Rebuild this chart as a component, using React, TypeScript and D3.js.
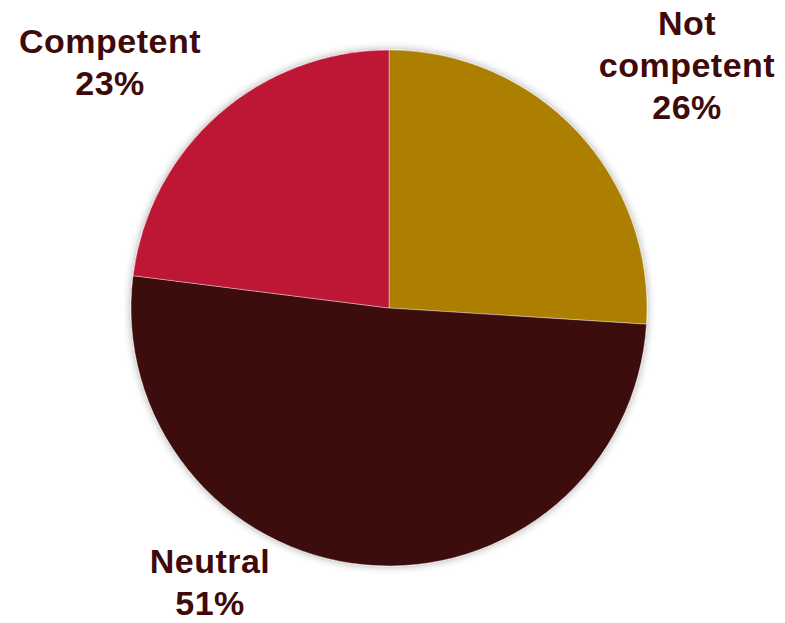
import React from "react";
import * as d3 from "d3";

const categories = ["Not competent", "Neutral", "Competent"];
const values = [26, 51, 23];
const colors = ["#AD7F00", "#3D0909", "#BE1335"];
const labelLines = [["Not", "competent", "26%"], ["Neutral", "51%"], ["Competent", "23%"]];

const W = 785, H = 623;
const cx = 389, cy = 308, R = 258;

const labelPos = [
  { x: 687, y: 35 },
  { x: 210, y: 573 },
  { x: 110, y: 53 },
];

export default function App() {
  const pie = d3.pie<number>().sort(null).value((d) => d)(values);
  const arc = d3.arc<d3.PieArcDatum<number>>().innerRadius(0).outerRadius(R);
  return (
    <svg width={W} height={H} style={{ position: "absolute", left: 0, top: 0 }}>
      <defs>
        <filter id="sh" x="-10%" y="-10%" width="120%" height="120%">
          <feGaussianBlur in="SourceAlpha" stdDeviation="4" />
          <feOffset dx="0" dy="0" result="b" />
          <feComponentTransfer><feFuncA type="linear" slope="0.35" /></feComponentTransfer>
          <feMerge><feMergeNode /><feMergeNode in="SourceGraphic" /></feMerge>
        </filter>
      </defs>
      <g transform={`translate(${cx},${cy})`} filter="url(#sh)">
        {pie.map((p, i) => (
          <path key={categories[i]} d={arc(p) || ""} fill={colors[i]} stroke="#ffffff" strokeWidth={0.4} />
        ))}
      </g>
      {labelLines.map((lines, i) => (
        <text key={i} x={labelPos[i].x} y={labelPos[i].y} textAnchor="middle"
          fontFamily="Liberation Sans, Arial, sans-serif" fontWeight="bold" fontSize={34}
          letterSpacing={0.5} fill="#3F0A0A">
          {lines.map((l, j) => (
            <tspan key={j} x={labelPos[i].x} dy={j === 0 ? 0 : 42}>{l}</tspan>
          ))}
        </text>
      ))}
    </svg>
  );
}
